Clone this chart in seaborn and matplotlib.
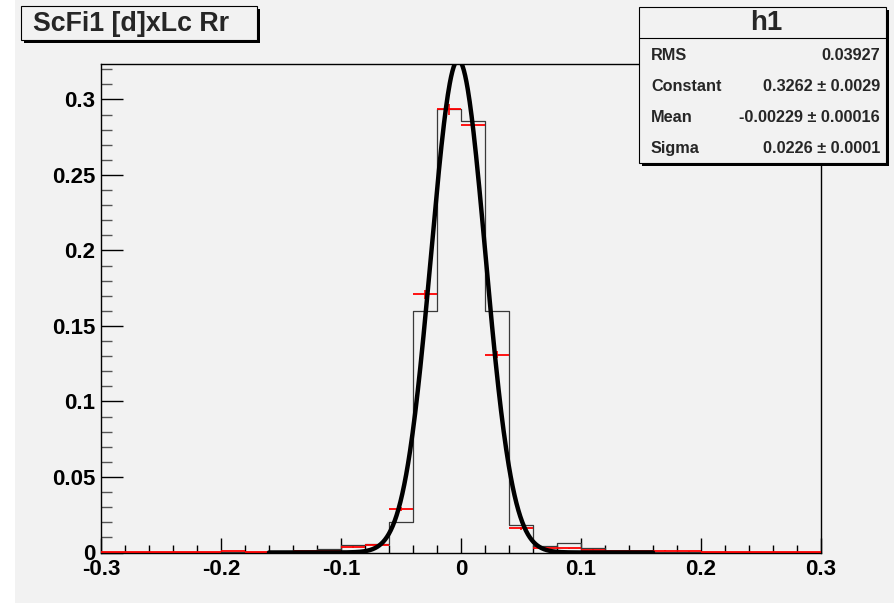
import numpy as np
import pandas as pd
import matplotlib
matplotlib.use("Agg")
import matplotlib.pyplot as plt
from matplotlib.patches import Rectangle
import seaborn as sns

# ---------------- data ----------------
bin_edges = [round(-0.3 + 0.02 * i, 2) for i in range(31)]
bin_centers = [round(-0.29 + 0.02 * i, 2) for i in range(30)]

# black histogram (bin contents), bins of width 0.02 from -0.3 to 0.3
hist_black = [0.0002, 0.0002, 0.0002, 0.0002, 0.0002,
              0.0002, 0.0003, 0.0004, 0.0007, 0.0022,
              0.0050, 0.0055, 0.0201, 0.1600, 0.2940,
              0.2860, 0.1596, 0.0184, 0.0046, 0.0062,
              0.0029, 0.0011, 0.0007, 0.0005, 0.0004,
              0.0002, 0.0002, 0.0002, 0.0002, 0.0002]

# red points (bin contents and errors)
hist_red = [0.0003, 0.0003, 0.0003, 0.0003, 0.0003,
            0.0011, 0.0005, 0.0006, 0.0011, 0.0009,
            0.0036, 0.0048, 0.0290, 0.1710, 0.2935,
            0.2830, 0.1310, 0.0160, 0.0033, 0.0029,
            0.0018, 0.0011, 0.0009, 0.0013, 0.0008,
            0.0005, 0.0005, 0.0005, 0.0005, 0.0005]
err_red = [0.0001, 0.0001, 0.0001, 0.0001, 0.0001,
           0.0002, 0.0001, 0.0002, 0.0002, 0.0002,
           0.0004, 0.0005, 0.0012, 0.0028, 0.0037,
           0.0036, 0.0025, 0.0009, 0.0004, 0.0004,
           0.0003, 0.0002, 0.0002, 0.0002, 0.0002,
           0.0001, 0.0001, 0.0001, 0.0001, 0.0001]

# gaussian fit parameters (from stats box)
fit_constant = 0.3262
fit_mean = -0.00229
fit_sigma = 0.0226
fit_range = (-0.16, 0.16)

title_text = "ScFi1 [d]xLc Rr"
stats_title = "h1"
stats_labels = ["RMS", "Constant", "Mean", "Sigma"]
stats_values = ["0.03927", "0.3262 \u00b1 0.0029", "-0.00229 \u00b1 0.00016", "0.0226 \u00b1 0.0001"]

x_ticks = [-0.3, -0.2, -0.1, 0, 0.1, 0.2, 0.3]
x_ticklabels = ["-0.3", "-0.2", "-0.1", "0", "0.1", "0.2", "0.3"]
y_ticks = [0, 0.05, 0.1, 0.15, 0.2, 0.25, 0.3]
y_ticklabels = ["0", "0.05", "0.1", "0.15", "0.2", "0.25", "0.3"]

# ---------------- figure ----------------
sns.set_theme(style="white")
plt.rcParams['font.family'] = ['Liberation Sans', 'DejaVu Sans']
BG = "#f2f2f2"
W, H = 895, 603
fig = plt.figure(figsize=(W / 100, H / 100), dpi=100, facecolor=BG)

def fx(px):
    return px / W

def fy(py):
    return 1 - py / H

ax = fig.add_axes([fx(101), fy(552.5), fx(821) - fx(101), fy(64) - fy(552.5)])
ax.set_facecolor(BG)

df_b = pd.DataFrame({"x": bin_centers, "w": hist_black})
sns.histplot(data=df_b, x="x", weights="w", bins=bin_edges, element="step",
             fill=False, color="#3a3a3a", linewidth=0.9, ax=ax, zorder=2)

# red points with error bars
ax.hlines(hist_red, np.array(bin_edges[:-1]), np.array(bin_edges[1:]),
          colors="red", linewidth=1.3, zorder=3)
ax.errorbar(bin_centers, hist_red, yerr=err_red, fmt="none", ecolor="red",
            elinewidth=1.2, capsize=0, zorder=3)

# fit curve
xs = np.linspace(fit_range[0], fit_range[1], 600)
ys = fit_constant * np.exp(-0.5 * ((xs - fit_mean) / fit_sigma) ** 2)
sns.lineplot(x=xs, y=ys, color="black", linewidth=3.2, ax=ax, zorder=4)

ax.set_xlim(-0.3, 0.3)
ax.set_ylim(0, 0.3235)
ax.set_xlabel("")
ax.set_ylabel("")

ax.set_xticks(x_ticks)
ax.set_xticklabels(x_ticklabels)
ax.set_yticks(y_ticks)
ax.set_yticklabels(y_ticklabels)
ax.set_xticks(np.arange(-0.3, 0.3001, 0.02), minor=True)
ax.set_yticks(np.arange(0, 0.3235, 0.01), minor=True)

ax.tick_params(axis="x", which="major", direction="in", length=10.8, width=1.0,
               color="black", labelsize=16, pad=5, bottom=True, top=False)
ax.tick_params(axis="x", which="minor", direction="in", length=5.8, width=1.0,
               color="black", bottom=True, top=False)
ax.tick_params(axis="y", which="major", direction="in", length=15.8, width=1.0,
               color="black", labelsize=16, pad=4, left=True, right=False)
ax.tick_params(axis="y", which="minor", direction="in", length=7.9, width=1.0,
               color="#555555", left=True, right=False)
for lab in ax.get_xticklabels() + ax.get_yticklabels():
    lab.set_fontweight("bold")
    lab.set_color("black")

for s in ax.spines.values():
    s.set_visible(True)
    s.set_color("black")
    s.set_linewidth(1.0)

# left white strip
fig.patches.append(Rectangle((0, 0), fx(15), 1, transform=fig.transFigure,
                             facecolor="white", edgecolor="none", zorder=0))

def box(x0, y0, x1, y1, shadow=3):
    fig.patches.append(Rectangle((fx(x0 + shadow), fy(y1 + shadow)),
                                 fx(x1) - fx(x0), fy(y0) - fy(y1),
                                 transform=fig.transFigure, facecolor="black",
                                 edgecolor="none", zorder=5))
    fig.patches.append(Rectangle((fx(x0), fy(y1)), fx(x1) - fx(x0), fy(y0) - fy(y1),
                                 transform=fig.transFigure, facecolor=BG,
                                 edgecolor="black", linewidth=0.8, zorder=6))

# title box
box(21, 6, 257, 40)
fig.text(fx(33), fy(24), title_text, fontsize=19.3, fontweight="bold",
         ha="left", va="center", zorder=7)

# stats box
box(639, 7, 886, 163)
fig.add_artist(plt.Line2D([fx(639), fx(886)], [fy(37.5), fy(37.5)],
                          transform=fig.transFigure, color="black",
                          linewidth=0.8, zorder=7))
fig.text(fx(766), fy(23), stats_title, fontsize=20, fontweight="bold",
         ha="center", va="center", zorder=7)
row_y = [55.5, 86.5, 117.5, 148.5]
for lab, val, yy in zip(stats_labels, stats_values, row_y):
    fig.text(fx(651), fy(yy), lab, fontsize=11.7, fontweight="bold",
             ha="left", va="center", zorder=7)
    fig.text(fx(880), fy(yy), val, fontsize=11.7, fontweight="bold",
             ha="right", va="center", zorder=7)

fig.savefig("out.png", dpi=100, facecolor=BG)
